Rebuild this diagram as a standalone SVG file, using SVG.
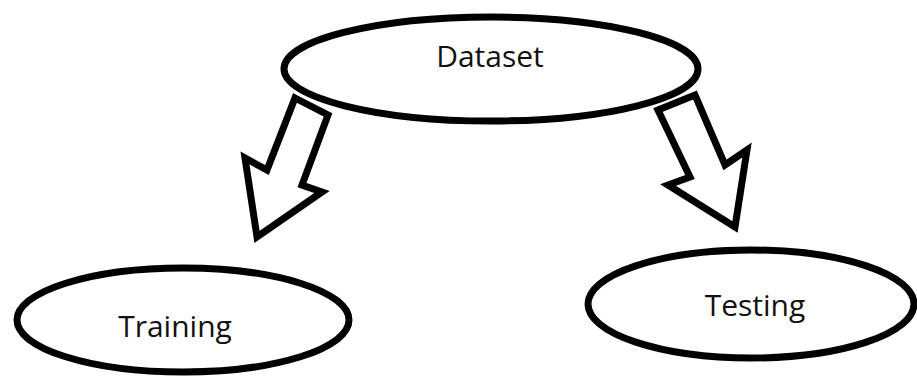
<svg xmlns="http://www.w3.org/2000/svg" width="917" height="376" viewBox="0 0 917 376">
  <style>
    .node ellipse { fill: #ffffff; stroke: #000000; stroke-width: 7; }
    .node text { font-family: "Open Sans", "Noto Sans", sans-serif; font-size: 30px; fill: #111111; text-anchor: middle; }
    .arrow { fill: #ffffff; stroke: #000000; stroke-width: 7; stroke-linejoin: miter; stroke-miterlimit: 10; }
  </style>
  <rect width="917" height="376" fill="#ffffff"/>

  <!-- block arrows splitting the dataset -->
  <g id="connectors">
    <polygon class="arrow" points="295,98 328,115 302,185 322,192 257,237 245,158 267,170"/>
    <polygon class="arrow" points="658,110 695,95 725,165 747,150 735,227 668,185 690,177"/>
  </g>

  <g id="dataset" class="node">
    <ellipse cx="491" cy="69" rx="207" ry="52"/>
    <text x="490" y="67">Dataset</text>
  </g>

  <g id="training" class="node">
    <ellipse cx="183" cy="320" rx="166" ry="52"/>
    <text x="175" y="337">Training</text>
  </g>

  <g id="testing" class="node">
    <ellipse cx="751" cy="304" rx="163" ry="54"/>
    <text x="755" y="316">Testing</text>
  </g>
</svg>
